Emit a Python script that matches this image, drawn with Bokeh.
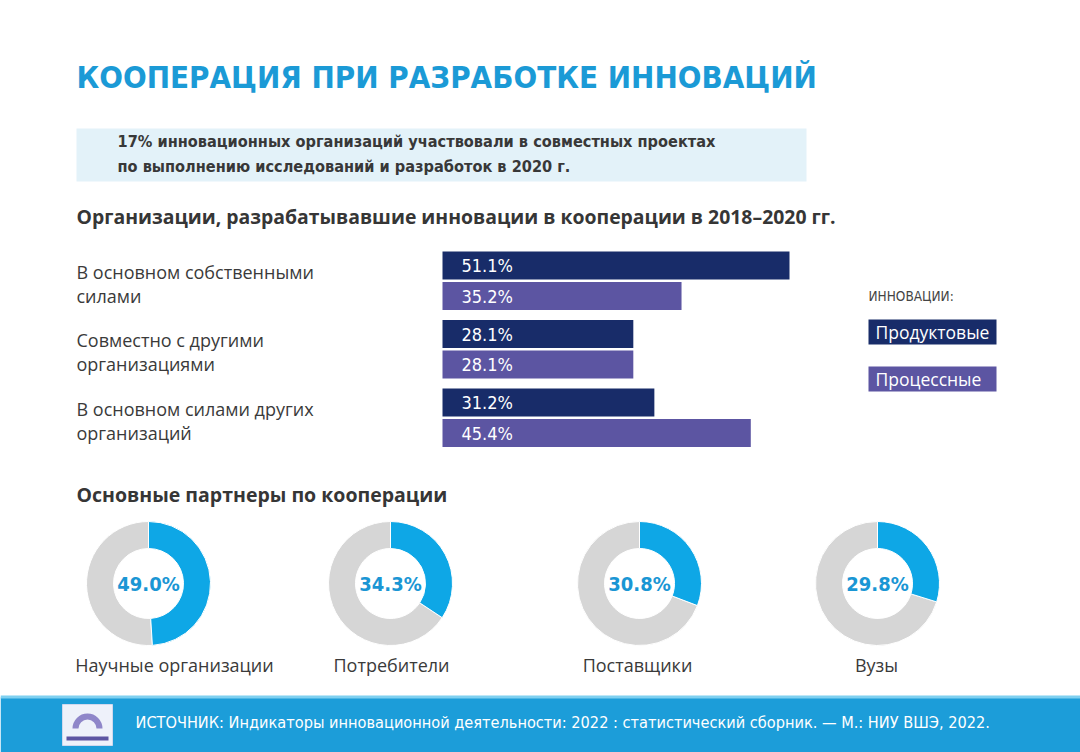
import math
from bokeh.plotting import figure
from bokeh.models import Range1d
from bokeh.core.properties import value
from bokeh.embed import file_html
from bokeh.resources import INLINE

# ---------------- data ----------------
title_text = "КООПЕРАЦИЯ ПРИ РАЗРАБОТКЕ ИННОВАЦИЙ"
note_lines = ["17% инновационных организаций участвовали в совместных проектах",
              "по выполнению исследований и разработок в 2020 г."]
bar_title = "Организации, разрабатывавшие инновации в кооперации в 2018–2020 гг."
bar_categories = [["В основном собственными", "силами"],
                  ["Совместно с другими", "организациями"],
                  ["В основном силами других", "организаций"]]
product_values = [51.1, 28.1, 31.2]
process_values = [35.2, 28.1, 45.4]
legend_title = "ИННОВАЦИИ:"
series_names = ["Продуктовые", "Процессные"]
donut_title = "Основные партнеры по кооперации"
partner_names = ["Научные организации", "Потребители", "Поставщики", "Вузы"]
partner_values = [49.0, 34.3, 30.8, 29.8]
source_text = ("ИСТОЧНИК: Индикаторы инновационной деятельности: 2022 : "
               "статистический сборник. — М.: НИУ ВШЭ, 2022.")

# ---------------- styles ----------------
W, H = 1080, 752
BLUE_T = "#1b9ad6"
NAVY = "#182c69"
PURPLE = "#5c55a2"
DONUT_BLUE = "#0ea7e6"
DONUT_GRAY = "#d6d6d6"
TXT = "#3a3a3a"
COND = value("DejaVu Sans Condensed")
SANS = value("Open Sans")


def Y(py):
    return H - py


p = figure(width=W, height=H, output_backend="svg", toolbar_location=None,
           x_range=Range1d(0, W), y_range=Range1d(0, H),
           x_axis_location=None, y_axis_location=None, min_border=0,
           background_fill_color="white", border_fill_color="white")
p.grid.visible = False
p.outline_line_color = None

# percentage scale for the bars: 0% at pixel 442, 51.1% at pixel 789
px_per_pct = (789 - 442) / 51.1
p.extra_x_ranges = {"pct": Range1d(-442 / px_per_pct, (W - 442) / px_per_pct)}

# ---------------- header ----------------
p.text(x=[76], y=[Y(76)], text=[title_text], text_font=COND, text_font_style="bold",
       text_font_size="31px", text_color=BLUE_T, text_baseline="middle")

p.quad(left=[76], right=[806], bottom=[Y(181)], top=[Y(128)], fill_color="#e3f2f9",
       line_color=None)
p.text(x=[117, 117], y=[Y(141), Y(166)], text=note_lines, text_font=COND,
       text_font_style="bold", text_font_size="16.2px", text_color="#383838",
       text_baseline="middle")

p.text(x=[76], y=[Y(216)], text=[bar_title], text_font=SANS, text_font_style="bold",
       text_font_size="19.4px", text_color="#363636", text_baseline="middle")

# ---------------- bars ----------------
n = len(product_values)
y_prod = [Y(265 + 68.5 * i) for i in range(n)]
y_proc = [Y(295.5 + 68.5 * i) for i in range(n)]
p.hbar(y=y_prod, left=0, right=product_values, height=28, fill_color=NAVY,
       line_color=None, x_range_name="pct")
p.hbar(y=y_proc, left=0, right=process_values, height=28, fill_color=PURPLE,
       line_color=None, x_range_name="pct")
p.text(x=[0] * n, y=y_prod, text=[f"{v:.1f}%" for v in product_values], x_offset=19,
       x_range_name="pct", text_font=COND, text_font_size="18px", text_color="white",
       text_baseline="middle")
p.text(x=[0] * n, y=y_proc, text=[f"{v:.1f}%" for v in process_values], x_offset=19,
       x_range_name="pct", text_font=COND, text_font_size="18px", text_color="white",
       text_baseline="middle")

for i, lines in enumerate(bar_categories):
    p.text(x=[76, 76], y=[Y(271 + 68.5 * i), Y(295 + 68.5 * i)], text=lines,
           text_font=SANS, text_font_size="18px", text_color=TXT, text_baseline="middle")

# legend
p.text(x=[868], y=[Y(295)], text=[legend_title], text_font=COND, text_font_size="13.5px",
       text_color="#444444", text_baseline="middle")
p.quad(left=[868, 868], right=[996, 996], top=[Y(319), Y(366)], bottom=[Y(344), Y(391)],
       fill_color=[NAVY, PURPLE], line_color=None)
p.text(x=[875, 875], y=[Y(331.5), Y(378.5)], text=series_names, text_font=SANS,
       text_font_size="17.5px", text_color="white", text_baseline="middle")

# ---------------- donuts ----------------
p.text(x=[76], y=[Y(494)], text=[donut_title], text_font=SANS, text_font_style="bold",
       text_font_size="19.5px", text_color="#363636", text_baseline="middle")

cx = [148, 390, 639, 877]
cy = [Y(583)] * 4
label_x = [174, 391, 637, 876]
start = [math.pi / 2] * 4
end = [math.pi / 2 - 2 * math.pi * v / 100 for v in partner_values]
p.annular_wedge(x=cx, y=cy, inner_radius=35, outer_radius=62, inner_radius_units="screen",
                outer_radius_units="screen", start_angle=end,
                end_angle=[a - 2 * math.pi for a in start], direction="clock",
                fill_color=DONUT_GRAY, line_color="white", line_width=1)
p.annular_wedge(x=cx, y=cy, inner_radius=35, outer_radius=62, inner_radius_units="screen",
                outer_radius_units="screen", start_angle=start, end_angle=end,
                direction="clock", fill_color=DONUT_BLUE, line_color="white", line_width=1)
p.text(x=cx, y=cy, text=[f"{v:.1f}%" for v in partner_values], text_font=COND,
       text_font_style="bold", text_font_size="20px", text_color="#1a96d4",
       text_align="center", text_baseline="middle")
p.text(x=label_x, y=[Y(664)] * 4, text=partner_names, text_font=SANS,
       text_font_size="18px", text_color=TXT, text_align="center", text_baseline="middle")

# ---------------- footer ----------------
p.quad(left=[0], right=[W], bottom=[0], top=[Y(697)], fill_color="#1c9dd9", line_color=None)
p.quad(left=[0], right=[W], bottom=[Y(698)], top=[Y(695)], fill_color="#7fd0f0",
       line_color=None)
p.quad(left=[62], right=[112], bottom=[Y(745)], top=[Y(704)], fill_color="#eef1fa",
       line_color="#d0d8ee", line_width=1)
p.annular_wedge(x=[87], y=[Y(728)], inner_radius=9, outer_radius=15,
                inner_radius_units="screen", outer_radius_units="screen",
                start_angle=0, end_angle=math.pi, fill_color="#8f86c9", line_color=None)
p.quad(left=[66], right=[108], bottom=[Y(740)], top=[Y(736)], fill_color="#5c55a2",
       line_color=None)
p.text(x=[135], y=[Y(722)], text=[source_text], text_font=COND, text_font_size="16.2px",
       text_color="white", text_baseline="middle")

open("out.html", "w").write(file_html(p, INLINE))
